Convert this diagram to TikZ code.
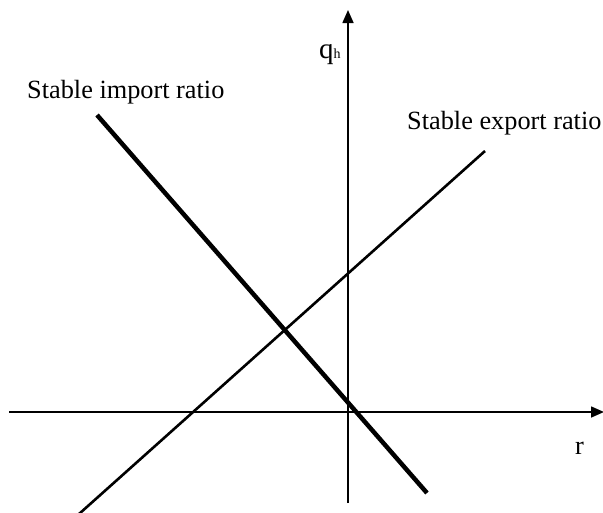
\documentclass[tikz,border=0pt]{standalone}
\usepackage{fontspec}
\setmainfont{Liberation Serif}
\usetikzlibrary{arrows.meta}
\begin{document}
\begin{tikzpicture}[x=1pt,y=-1pt,
  axis/.style={line width=1.6pt,-{Triangle[length=13pt,width=11pt]}},
  importline/.style={line width=4.5pt},
  exportline/.style={line width=2.6pt},
  lbl/.style={inner sep=0pt,anchor=base west,font=\fontsize{26.3}{30}\selectfont}]
\useasboundingbox (0,0) rectangle (603,512);
\coordinate (xs) at (9,412);
\coordinate (xe) at (604,412);
\coordinate (ys) at (348,503);
\coordinate (ye) at (348,10);
\coordinate (is) at (97,115);
\coordinate (ie) at (427,493);
\coordinate (es) at (79,514);
\coordinate (ee) at (485,151);
\draw[axis] (xs) -- (xe);
\draw[axis] (ys) -- (ye);
\draw[importline] (is) -- (ie);
\draw[exportline] (es) -- (ee);
\node[lbl] (il) at (27,98) {Stable import ratio};
\node[lbl] (el) at (407,129) {Stable export ratio};
\node[lbl] (q) at (319,58) {{\fontsize{29}{30}\selectfont q}{\fontsize{14}{14}\selectfont h}};
\node[lbl] (r) at (575,454) {r};
\end{tikzpicture}
\end{document}
